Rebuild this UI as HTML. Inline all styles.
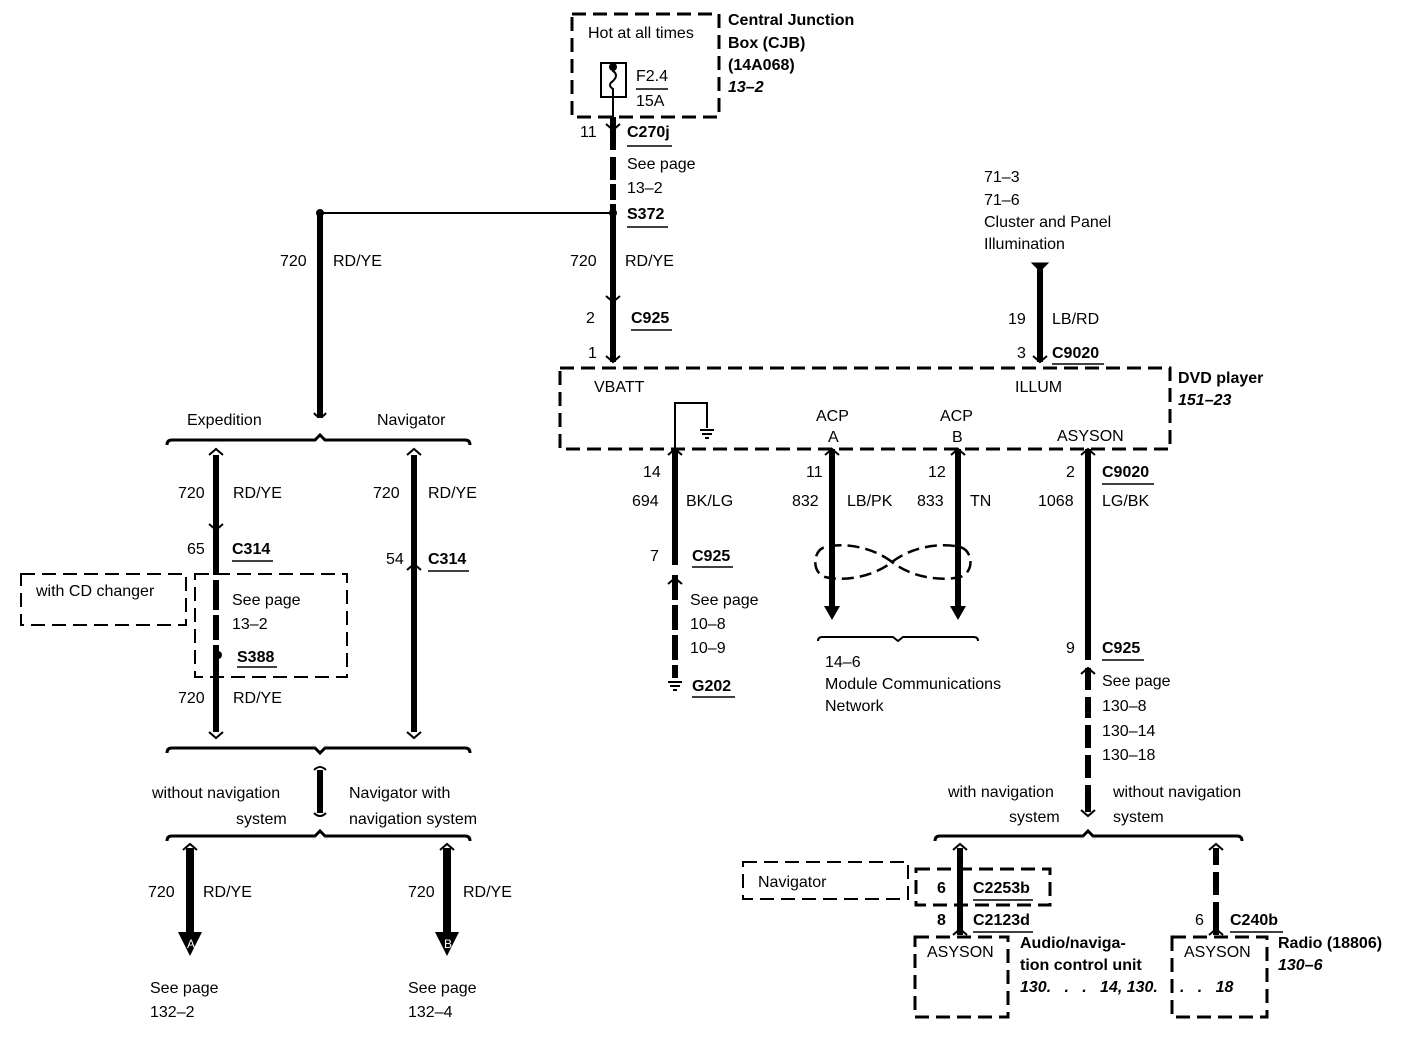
<!DOCTYPE html>
<html><head><meta charset="utf-8"><style>
html,body{margin:0;padding:0;background:#fff}
svg{display:block}
text{font-family:"Liberation Sans",sans-serif;font-size:16px;fill:#000}
.b{font-weight:bold}
.bi{font-weight:bold;font-style:italic}
</style></head><body>
<svg width="1408" height="1038" viewBox="0 0 1408 1038" xmlns="http://www.w3.org/2000/svg">
<g fill="none" stroke="#000">
<g stroke-width="3" stroke-dasharray="14,7">
<rect x="572" y="14" width="147" height="103"/>
<rect x="560" y="368" width="610" height="81"/>
<rect x="21" y="574" width="165" height="51" stroke-width="2"/>
<rect x="195" y="574" width="152" height="103" stroke-width="2"/>
<rect x="743" y="862" width="165" height="37" stroke-width="2"/>
<rect x="916" y="869" width="134" height="36"/>
<rect x="915" y="937" width="93" height="80"/>
<rect x="1172" y="937" width="95" height="80"/>
</g>
<rect x="601" y="63" width="25" height="34" stroke-width="2"/>
<path d="M613 63 v8 q6 4 0 10 q-6 4 0 8 v28" stroke-width="2"/>
<line x1="636" y1="89" x2="668" y2="89" stroke-width="1.5"/>
<path d="M613 117 V150 M613 157 V180 M613 184 V200 M613 204 V362" stroke-width="6"/>
<line x1="320" y1="213" x2="613" y2="213" stroke-width="2"/>
<path d="M320 213 V418" stroke-width="6"/>
<path d="M1040 265 V362" stroke-width="6"/>
<path d="M1032 263 h16 l-8 8z" fill="#000"/>
<path d="M167 445 q0 -5 5 -5 H315 l5 -5 l5 5 H465 q5 0 5 5" stroke-width="3"/>
<path d="M167 753 q0 -5 5 -5 H315 l5 5 l5 -5 H465 q5 0 5 5" stroke-width="3"/>
<path d="M167 841 q0 -5 5 -5 H315 l5 -5 l5 5 H465 q5 0 5 5" stroke-width="3"/>
<path d="M320 770 V813" stroke-width="6"/>
<path d="M314 770 q6 -6 12 0 M314 813 q6 6 12 0" stroke-width="2"/>
<path d="M314 413 q6 8 12 0" stroke-width="2"/>
<path d="M216 455 V575 M216 580 V610 M216 615 V640 M216 645 V732" stroke-width="6"/>
<path d="M414 455 V732" stroke-width="6"/>
<path d="M190 848 V935 M447 848 V935" stroke-width="8"/>
<path d="M675 449 V565 M675 575 V600 M675 605 V630 M675 635 V660 M675 665 V678" stroke-width="6"/>
<path d="M675 449 V403 H707 V428" stroke-width="2"/>
<path d="M700 430 h14 M702 434 h10 M705 438 h4" stroke-width="2"/>
<path d="M668 682 h14 M670 686 h10 M673 690 h4" stroke-width="2"/>
<path d="M832 449 V608 M958 449 V608" stroke-width="6"/>
<path d="M1088 449 V660 M1088 668 V690 M1088 697 V718 M1088 725 V748 M1088 755 V778 M1088 785 V812" stroke-width="6"/>
<path d="M892 562 C870 545 840 543 825 547 C812 551 812 573 825 577 C840 581 870 579 892 562 C914 545 944 543 960 547 C974 551 974 573 960 577 C944 581 914 579 892 562 Z" stroke-width="2.5" stroke-dasharray="12,6"/>
<path d="M818 641 q0 -4 4 -4 H893 l5 4 l5 -4 H974 q4 0 4 4" stroke-width="2"/>
<path d="M935 841 q0 -5 5 -5 H1083 l5 -5 l5 5 H1237 q5 0 5 5" stroke-width="3"/>
<path d="M960 848 V935" stroke-width="6"/>
<path d="M1216 848 V865 M1216 872 V895 M1216 902 V935" stroke-width="6"/>
<g stroke-width="2">
<path d="M606 124 l7 6 l7 -6 M606 296 l7 6 l7 -6 M606 356 l7 6 l7 -6 M1033 356 l7 6 l7 -6"/>
<path d="M209 524 l7 6 l7 -6 M407 570 l7 -6 l7 6 M668 584 l7 -6 l7 6 M1081 674 l7 -6 l7 6"/>
<path d="M209 455 l7 -6 l7 6 M407 455 l7 -6 l7 6 M209 732 l7 6 l7 -6 M407 732 l7 6 l7 -6"/>
<path d="M668 455 l7 -6 l7 6 M825 455 l7 -6 l7 6 M951 455 l7 -6 l7 6 M1081 455 l7 -6 l7 6"/>
<path d="M183 850 l7 -6 l7 6 M440 850 l7 -6 l7 6 M953 850 l7 -6 l7 6 M1209 850 l7 -6 l7 6"/>
<path d="M953 935 l7 -6 l7 6 M1209 935 l7 -6 l7 6 M1081 810 l7 6 l7 -6"/>
</g>
<g stroke-width="1.5">
<line x1="627" y1="146" x2="672" y2="146"/><line x1="627" y1="227" x2="668" y2="227"/>
<line x1="631" y1="330" x2="672" y2="330"/><line x1="1052" y1="364" x2="1104" y2="364"/>
<line x1="232" y1="561" x2="273" y2="561"/><line x1="428" y1="571" x2="469" y2="571"/>
<line x1="237" y1="667" x2="277" y2="667"/><line x1="692" y1="567" x2="733" y2="567"/>
<line x1="692" y1="697" x2="735" y2="697"/><line x1="1102" y1="484" x2="1154" y2="484"/>
<line x1="1102" y1="660" x2="1144" y2="660"/><line x1="973" y1="900" x2="1033" y2="900"/>
<line x1="973" y1="932" x2="1033" y2="932"/><line x1="1230" y1="932" x2="1283" y2="932"/>
</g>
</g>
<g fill="#000">
<circle cx="613" cy="213" r="4"/><circle cx="320" cy="213" r="4"/><circle cx="613" cy="67" r="4"/>
<circle cx="218" cy="655" r="4"/>
<path d="M824 606 h16 l-8 14z M950 606 h16 l-8 14z"/>
<path d="M178 932 h24 l-12 24z M435 932 h24 l-12 24z"/>
</g>
<text x="187" y="948" style="fill:#fff;font-size:12px">A</text>
<text x="444" y="948" style="fill:#fff;font-size:12px">B</text>
<text x="588" y="38">Hot at all times</text>
<text x="636" y="81">F2.4</text><text x="636" y="106">15A</text>
<text x="728" y="25" class="b">Central Junction</text>
<text x="728" y="48" class="b">Box (CJB)</text>
<text x="728" y="70" class="b">(14A068)</text>
<text x="728" y="92" class="bi">13–2</text>
<text x="580" y="137">11</text><text x="627" y="137" class="b">C270j</text>
<text x="627" y="169">See page</text><text x="627" y="193">13–2</text>
<text x="627" y="219" class="b">S372</text>
<text x="570" y="266">720</text><text x="625" y="266">RD/YE</text>
<text x="280" y="266">720</text><text x="333" y="266">RD/YE</text>
<text x="586" y="323">2</text><text x="631" y="323" class="b">C925</text>
<text x="588" y="358">1</text>
<text x="984" y="182">71–3</text><text x="984" y="205">71–6</text>
<text x="984" y="227">Cluster and Panel</text><text x="984" y="249">Illumination</text>
<text x="1008" y="324">19</text><text x="1052" y="324">LB/RD</text>
<text x="1017" y="358">3</text><text x="1052" y="358" class="b">C9020</text>
<text x="594" y="392">VBATT</text><text x="1015" y="392">ILLUM</text>
<text x="1178" y="383" class="b">DVD player</text><text x="1178" y="405" class="bi">151–23</text>
<text x="816" y="421">ACP</text><text x="828" y="442">A</text>
<text x="940" y="421">ACP</text><text x="952" y="442">B</text>
<text x="1057" y="441">ASYSON</text>
<text x="643" y="477">14</text><text x="632" y="506">694</text><text x="686" y="506">BK/LG</text>
<text x="806" y="477">11</text><text x="792" y="506">832</text><text x="847" y="506">LB/PK</text>
<text x="928" y="477">12</text><text x="917" y="506">833</text><text x="970" y="506">TN</text>
<text x="1066" y="477">2</text><text x="1102" y="477" class="b">C9020</text>
<text x="1038" y="506">1068</text><text x="1102" y="506">LG/BK</text>
<text x="650" y="561">7</text><text x="692" y="561" class="b">C925</text>
<text x="690" y="605">See page</text><text x="690" y="629">10–8</text><text x="690" y="653">10–9</text>
<text x="692" y="691" class="b">G202</text>
<text x="825" y="667">14–6</text><text x="825" y="689">Module Communications</text><text x="825" y="711">Network</text>
<text x="1066" y="653">9</text><text x="1102" y="653" class="b">C925</text>
<text x="1102" y="686">See page</text><text x="1102" y="711">130–8</text><text x="1102" y="736">130–14</text><text x="1102" y="760">130–18</text>
<text x="187" y="425">Expedition</text><text x="377" y="425">Navigator</text>
<text x="178" y="498">720</text><text x="233" y="498">RD/YE</text>
<text x="373" y="498">720</text><text x="428" y="498">RD/YE</text>
<text x="187" y="554">65</text><text x="232" y="554" class="b">C314</text>
<text x="386" y="564">54</text><text x="428" y="564" class="b">C314</text>
<text x="36" y="596">with CD changer</text>
<text x="232" y="605">See page</text><text x="232" y="629">13–2</text>
<text x="237" y="662" class="b">S388</text>
<text x="178" y="703">720</text><text x="233" y="703">RD/YE</text>
<text x="152" y="798">without navigation</text><text x="236" y="824">system</text>
<text x="349" y="798">Navigator with</text><text x="349" y="824">navigation system</text>
<text x="148" y="897">720</text><text x="203" y="897">RD/YE</text>
<text x="408" y="897">720</text><text x="463" y="897">RD/YE</text>
<text x="150" y="993">See page</text><text x="150" y="1017">132–2</text>
<text x="408" y="993">See page</text><text x="408" y="1017">132–4</text>
<text x="948" y="797">with navigation</text><text x="1009" y="822">system</text>
<text x="1113" y="797">without navigation</text><text x="1113" y="822">system</text>
<text x="758" y="887">Navigator</text>
<text x="937" y="893" class="b">6</text><text x="973" y="893" class="b">C2253b</text>
<text x="937" y="925" class="b">8</text><text x="973" y="925" class="b">C2123d</text>
<text x="1195" y="925">6</text><text x="1230" y="925" class="b">C240b</text>
<text x="927" y="957">ASYSON</text><text x="1184" y="957">ASYSON</text>
<text x="1020" y="948" class="b">Audio/naviga-</text>
<text x="1020" y="970" class="b">tion control unit</text>
<text x="1020" y="992" class="bi" xml:space="preserve">130.   .   .   14, 130.</text>
<text x="1180" y="992" class="bi" xml:space="preserve">.   .   18</text>
<text x="1278" y="948" class="b">Radio (18806)</text>
<text x="1278" y="970" class="bi">130–6</text>
</svg>
</body></html>
